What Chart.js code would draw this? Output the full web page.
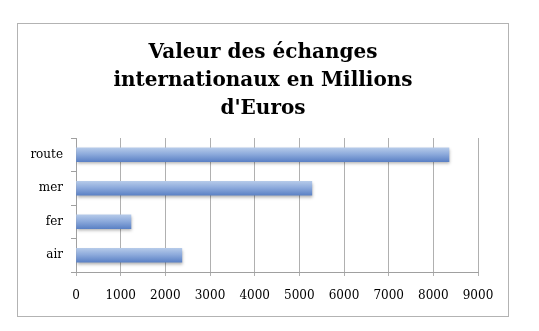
<!DOCTYPE html>
<html>
<head>
<meta charset="utf-8">
<script src="https://cdn.jsdelivr.net/npm/chart.js@4"></script>
<style>
  html, body { margin: 0; padding: 0; background: #fff; }
  #frame {
    position: absolute; left: 17px; top: 23px;
    width: 490px; height: 292px;
    border: 1px solid #b3b3b3;
  }
</style>
</head>
<body>
<div id="frame"><canvas id="chart" width="490" height="292"></canvas></div>
<script>
// Data
const categories = ['route', 'mer', 'fer', 'air'];
const values = [8350, 5280, 1230, 2370];
const titleLines = ['Valeur des échanges', 'internationaux en Millions', "d'Euros"];

const serif = "'DejaVu Serif', 'Liberation Serif', serif";

// vertical gradient for each bar, like the old office style
function barFill(context) {
    const chart = context.chart;
    const yScale = chart.scales.y;
    if (!yScale) return '#7b9bd2';
    const yc = yScale.getPixelForValue(context.dataIndex);
    if (!isFinite(yc)) return '#7b9bd2';
    const g = chart.ctx.createLinearGradient(0, yc - 7, 0, yc + 7);
    g.addColorStop(0, '#b5cae9');
    g.addColorStop(0.45, '#8eabdc');
    g.addColorStop(1, '#5b81c5');
    return g;
}

// soft shadow under bars
const barShadow = {
    id: 'barShadow',
    beforeDatasetsDraw(chart) {
        chart.ctx.save();
        chart.ctx.shadowColor = 'rgba(0,0,0,0.3)';
        chart.ctx.shadowBlur = 3;
        chart.ctx.shadowOffsetX = 1;
        chart.ctx.shadowOffsetY = 2;
    },
    afterDatasetsDraw(chart) {
        chart.ctx.restore();
    }
};

const chart = new Chart(document.getElementById('chart'), {
    type: 'bar',
    data: {
        labels: categories,
        datasets: [{
            data: values,
            backgroundColor: barFill,
            borderWidth: 0,
            barThickness: 14
        }]
    },
    plugins: [barShadow],
    options: {
        indexAxis: 'y',
        responsive: false,
        animation: false,
        layout: { padding: 0 },
        plugins: {
            legend: { display: false },
            tooltip: { enabled: false },
            title: {
                display: true,
                text: titleLines,
                color: '#000',
                font: { family: serif, size: 20, weight: 'bold', lineHeight: 1.4 },
                padding: { top: 15, bottom: 15 }
            }
        },
        scales: {
            x: {
                min: 0,
                max: 9000,
                ticks: {
                    stepSize: 1000,
                    color: '#000',
                    font: { family: serif, size: 12 },
                    padding: 13,
                    maxRotation: 0,
                    callback: (v) => String(v)
                },
                grid: {
                    color: '#b0b0b0',
                    tickLength: 4,
                    drawTicks: true
                },
                border: { color: '#a0a0a0' },
                afterFit(scale) {
                    scale.height = 44;
                    scale.paddingRight = 30;
                }
            },
            y: {
                offset: true,
                ticks: {
                    color: '#000',
                    font: { family: serif, size: 12 },
                    padding: 8
                },
                grid: {
                    display: true,
                    offset: true,
                    drawOnChartArea: false,
                    color: '#a0a0a0',
                    tickLength: 5
                },
                border: { color: '#a0a0a0' },
                afterFit(scale) { scale.width = 58; }
            }
        }
    }
});
// second pass so the gradients see the laid-out scale
chart.update();
</script>
</body>
</html>
